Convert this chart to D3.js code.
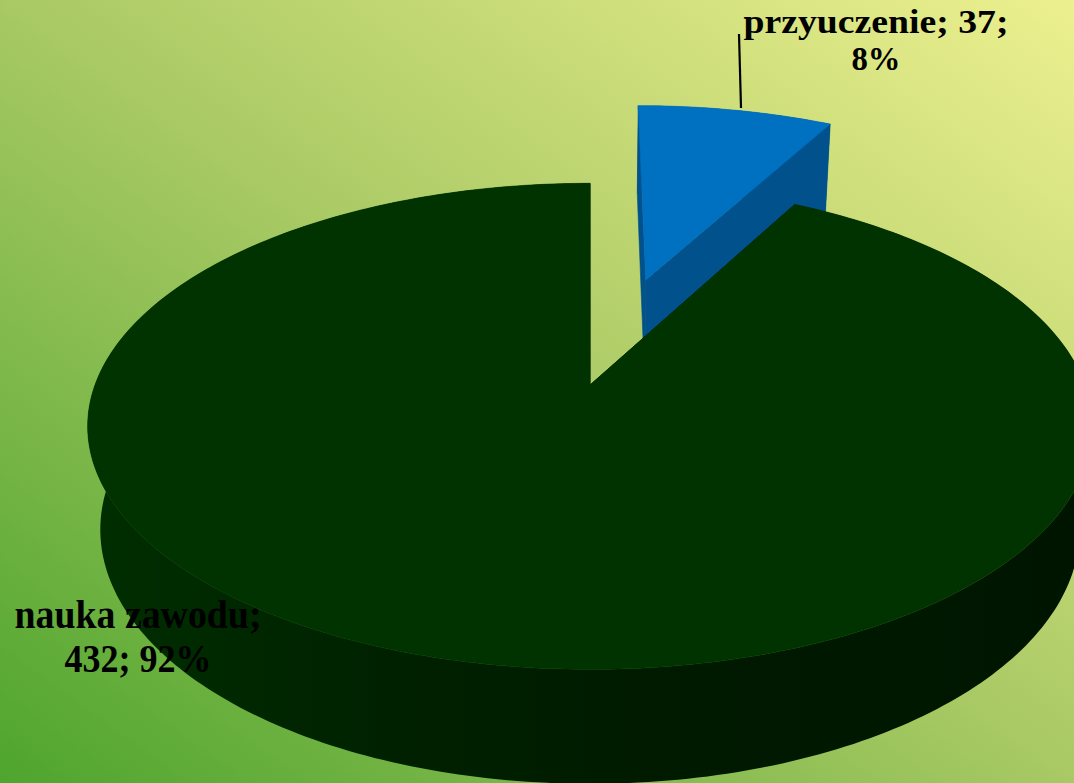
<!DOCTYPE html>
<html>
<head>
<meta charset="utf-8">
<script src="https://cdn.jsdelivr.net/npm/d3@7"></script>
<style>
  html, body { margin: 0; padding: 0; overflow: hidden; }
</style>
</head>
<body>
<div id="chart"></div>
<script>
// data
const categories = ["przyuczenie", "nauka zawodu"];
const values = [37, 432];
const sliceColors = ["#0070c0", "#003300"];
const faceColors = ["#00518c", "#001c00"];
const explode = [0.497, 0];
const firstLineParts = [2, 1];   // how many label parts go on line one

function makePie3D({width = 1074, height = 783}){
    let svg = d3.select("#chart").append("svg")
                .attr("width", width)
                .attr("height", height);

    //#region background
    let defs = svg.append("defs");
    let bg = defs.append("linearGradient")
                .attr("id", "bg")
                .attr("x1", 0).attr("y1", 1)
                .attr("x2", 1).attr("y2", 0);
    bg.append("stop").attr("offset", 0).attr("stop-color", "#4ea52d");
    bg.append("stop").attr("offset", 0.5).attr("stop-color", "#a8c964");
    bg.append("stop").attr("offset", 1).attr("stop-color", "#edf08f");

    svg.append("rect")
        .attr("width", width).attr("height", height)
        .attr("fill", "url(#bg)");
    //#endregion

    //#region projection
    // u: right, v: away from viewer, d: down into the pie (0 top, 1 bottom)
    const cx = 590, cy = 385;
    const A = 236, B = 495, T = 105, k = 0.17, m = 0.025;

    function project(u, v, d){
        let w = 1 + k * v + m * d;
        return [cx + B * u / w, cy + (-A * v + T * d) / w];
    }
    const line = d3.line();

    // outer wall shading, lit from the left
    let wall = defs.append("linearGradient")
                .attr("id", "wall")
                .attr("gradientUnits", "userSpaceOnUse")
                .attr("x1", cx - B).attr("y1", 0)
                .attr("x2", cx + B).attr("y2", 0);
    wall.append("stop").attr("offset", 0).attr("stop-color", "#002e00");
    wall.append("stop").attr("offset", 0.3).attr("stop-color", "#002100");
    wall.append("stop").attr("offset", 0.6).attr("stop-color", "#001a00");
    wall.append("stop").attr("offset", 1).attr("stop-color", "#001500");
    //#endregion

    let arcs = d3.pie().sort(null).value(d => d)(values);

    function arcPoints(a0, a1, ou, ov, d){
        let n = Math.max(2, Math.ceil((a1 - a0) / (Math.PI / 180)));
        return d3.range(n + 1).map(i => {
            let a = a0 + (a1 - a0) * i / n;
            return project(ou + Math.sin(a), ov + Math.cos(a), d);
        });
    }

    function drawSlice(i){
        let s = arcs[i];
        let mid = (s.startAngle + s.endAngle) / 2;
        let ou = explode[i] * Math.sin(mid), ov = explode[i] * Math.cos(mid);
        let g = svg.append("g").attr("class", "slice");

        // outer wall as one band; the back part ends up under the top face
        let top = arcPoints(s.startAngle, s.endAngle, ou, ov, 0);
        let bot = arcPoints(s.startAngle, s.endAngle, ou, ov, 1).reverse();
        g.append("path")
            .attr("d", line(top.concat(bot)) + "Z")
            .attr("fill", i == 0 ? faceColors[0] : "url(#wall)");

        // cut faces
        [s.startAngle, s.endAngle].forEach(a => {
            let pts = [project(ou, ov, 0),
                       project(ou + Math.sin(a), ov + Math.cos(a), 0),
                       project(ou + Math.sin(a), ov + Math.cos(a), 1),
                       project(ou, ov, 1)];
            g.append("path")
                .attr("d", line(pts) + "Z")
                .attr("fill", faceColors[i])
                .attr("stroke", faceColors[i])
                .attr("stroke-width", 0.6);
        });

        // top face
        let topPts = [project(ou, ov, 0)].concat(top);
        g.append("path")
            .attr("d", line(topPts) + "Z")
            .attr("fill", sliceColors[i])
            .attr("stroke", sliceColors[i])
            .attr("stroke-width", 0.6);
    }

    // blue piece sits behind, so draw it first
    drawSlice(0);
    drawSlice(1);

    //#region labels
    const total = d3.sum(values);
    const pct = d3.format(".0%");
    const labelPos = [
        {x: 876, y1: 33, y2: 70, w1: 265, w2: 49, size: 34},
        {x: 138, y1: 628, y2: 672, w1: 247, w2: 147, size: 40}
    ];

    svg.append("line")
        .attr("x1", 739).attr("y1", 34)
        .attr("x2", 741).attr("y2", 108)
        .attr("stroke", "#000")
        .attr("stroke-width", 2.2);

    categories.forEach((c, i) => {
        let parts = [c, values[i], pct(values[i] / total)];
        let n = firstLineParts[i];
        let lines = [parts.slice(0, n).join("; ") + ";", parts.slice(n).join("; ")];
        let p = labelPos[i];
        let t = svg.append("text")
                .attr("font-family", "'Liberation Serif', 'DejaVu Serif', serif")
                .attr("font-weight", "bold")
                .attr("font-size", p.size)
                .attr("fill", "#000")
                .attr("text-anchor", "middle");
        t.append("tspan").attr("x", p.x).attr("y", p.y1)
            .attr("textLength", p.w1).attr("lengthAdjust", "spacingAndGlyphs")
            .text(lines[0]);
        t.append("tspan").attr("x", p.x).attr("y", p.y2)
            .attr("textLength", p.w2).attr("lengthAdjust", "spacingAndGlyphs")
            .text(lines[1]);
    });
    //#endregion
}

makePie3D({});
</script>
</body>
</html>
